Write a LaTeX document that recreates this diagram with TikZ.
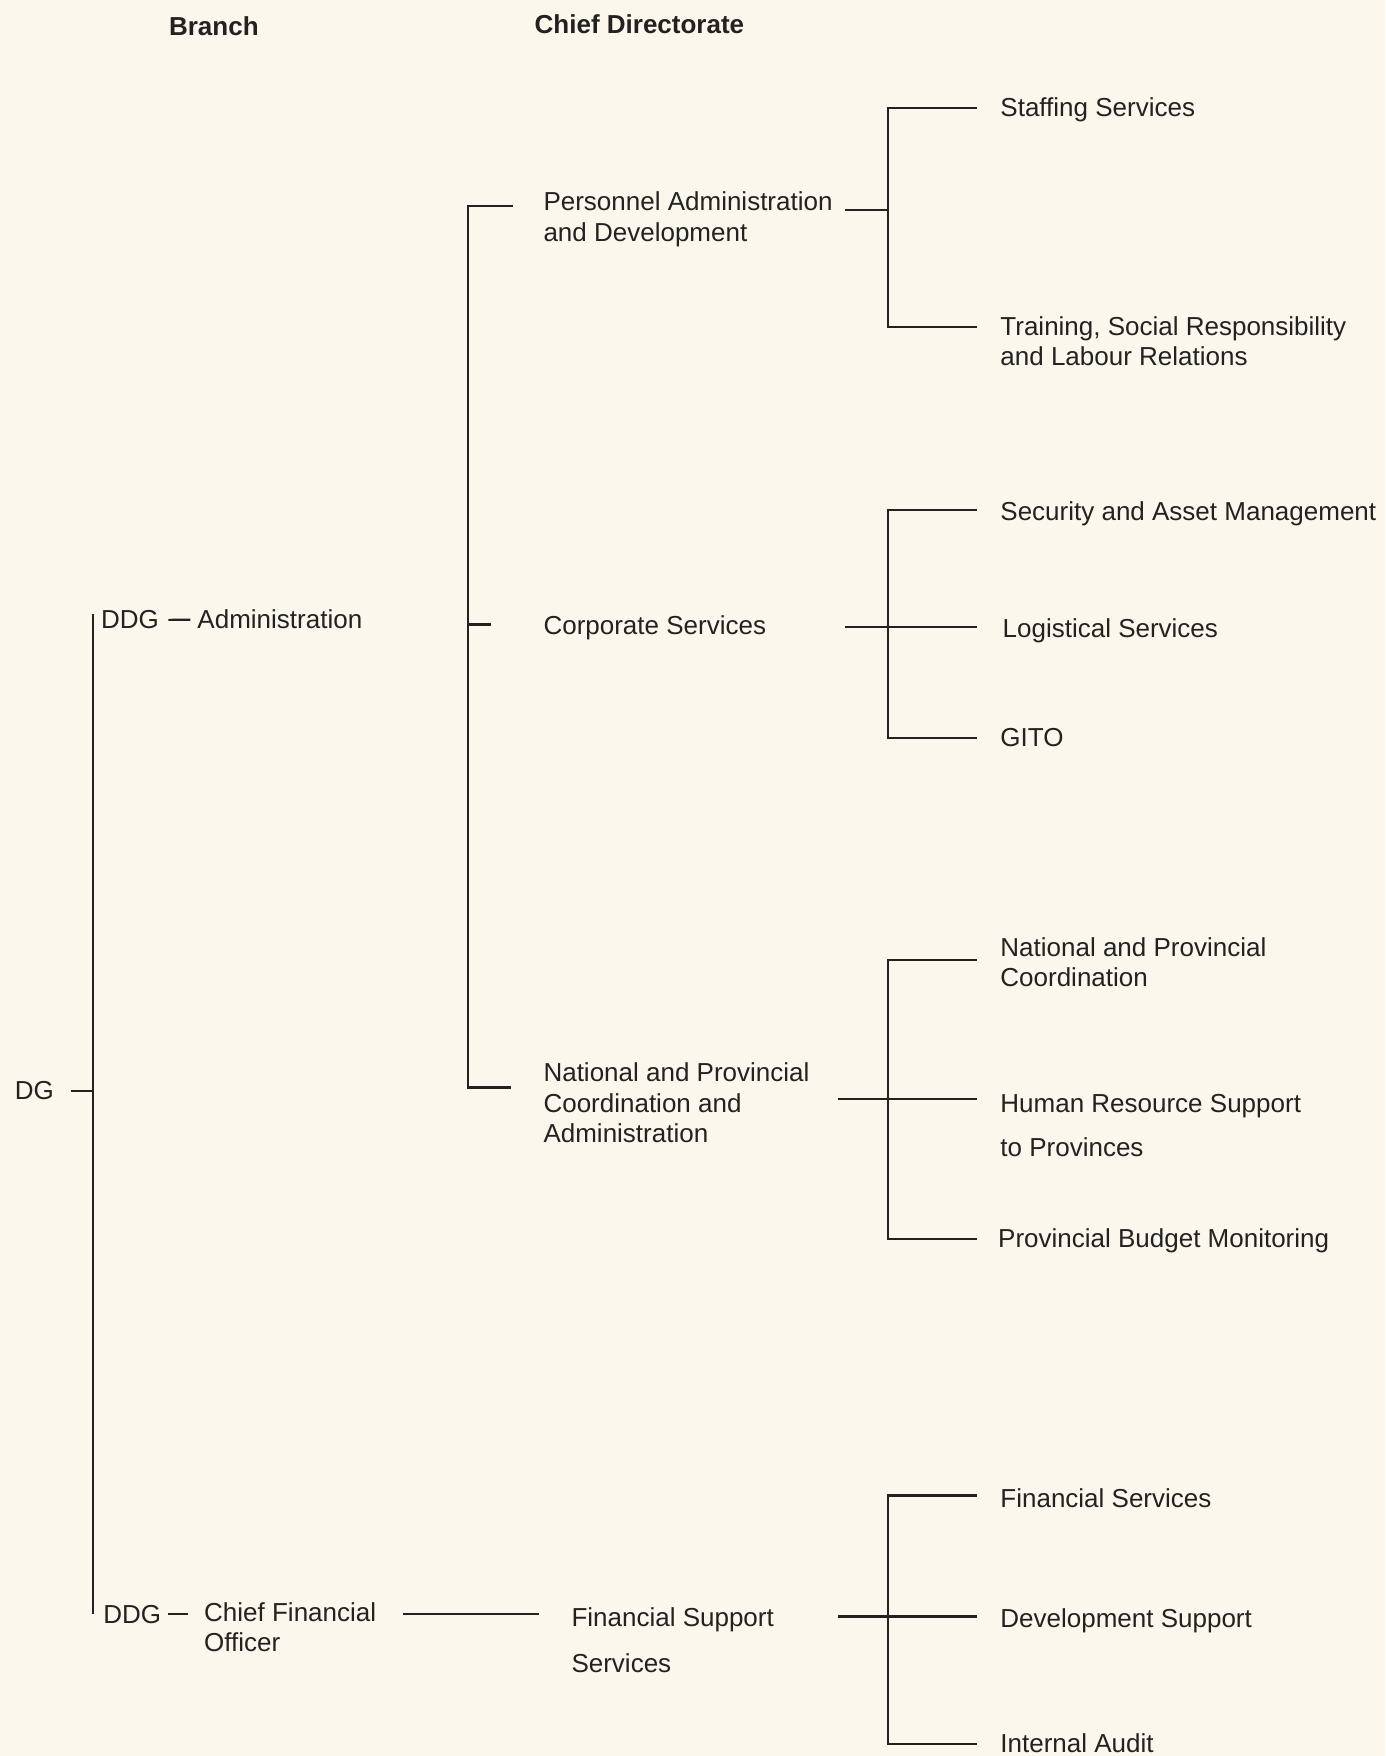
\documentclass[tikz,border=0pt]{standalone}
\usepackage{fontspec}
\setmainfont{Liberation Sans}
\definecolor{paper}{RGB}{251,247,237}
\definecolor{ink}{RGB}{36,33,33}

\begin{document}
\begin{tikzpicture}[x=0.5599pt, y=-0.5605pt,
    every node/.style={inner sep=0pt, text=ink, font=\fontsize{13}{15.1}\selectfont},
    unit/.style={anchor=base west, align=left},
    head/.style={font=\fontsize{13}{15.1}\selectfont\bfseries},
    link/.style={draw=ink, line width=1.1pt}]

    \fill[paper] (0,0) rectangle (1236.9,1566.4);
    \useasboundingbox (0,0) rectangle (1236.9,1566.4);

    \node[head] (hbranch) at (191,23) {Branch};
    \node[head] (hchief) at (571,22) {Chief Directorate};

    % branch
    \node[unit] (dg) at (13,981) {DG};
    \node[unit] (ddgA) at (90,561) {DDG};
    \node[unit] (admin) at (176,561) {Administration};
    \node[unit] (ddgB) at (92,1448) {DDG};
    \node[unit] (cfo) at (182,1473) {Chief Financial\\Officer};

    % chief directorate
    \node[unit] (pad) at (485,215) {Personnel Administration\\and Development};
    \node[unit] (corp) at (485,566) {Corporate Services};
    \node[unit] (npca) at (485,1019) {National and Provincial\\Coordination and\\Administration};
    \node[unit] (fss) at (510,1492) {Financial Support\\[7.8pt]Services};

    % directorates
    \node[unit] (staff) at (893,104) {Staffing Services};
    \node[unit] (train) at (893,326) {Training, Social Responsibility\\and Labour Relations};
    \node[unit] (secur) at (893,464) {Security and Asset Management};
    \node[unit] (logis) at (895,569) {Logistical Services};
    \node[unit] (gito) at (893,666) {GITO};
    \node[unit] (npc) at (893,880) {National and Provincial\\Coordination};
    \node[unit] (hrs) at (893,1032) {Human Resource Support\\[7.2pt]to Provinces};
    \node[unit] (pbm) at (891,1113) {Provincial Budget Monitoring};
    \node[unit] (fins) at (893,1345) {Financial Services};
    \node[unit] (devs) at (893,1452) {Development Support};
    \node[unit] (iaud) at (893,1563) {Internal Audit};

    \coordinate (dgTop) at (83,548);
    \coordinate (dgMid) at (83,973);
    \coordinate (dgBot) at (83,1440);
    \coordinate (dgTick) at (63,973);
    \draw[link] (dgTop) -- (dgBot);
    \draw[link] (dgTick) -- (dgMid);

    \draw[link, shorten <=4.5pt, shorten >=3.4pt] (ddgA.east) -- (admin.west);
    \draw[link, shorten <=3.4pt, shorten >=7.8pt] (ddgB.east) -- (ddgB.east -| cfo.west);
    \draw[link, shorten <=13.4pt, shorten >=16.2pt] (ddgB.east -| cfo.east) -- (ddgB.east -| fss.west);

    \coordinate (busTop) at (458,184);
    \coordinate (busMid) at (418,557);
    \coordinate (busBot) at (456,970);
    \coordinate (corpTick) at (438,557);
    \draw[link] (busTop) -| (busMid) |- (busBot);
    \draw[link] (busMid) -- (corpTick);

    \coordinate (padOut) at (755,187);
    \coordinate (padJ) at (793,187);
    \coordinate (staffIn) at (872,96);
    \coordinate (trainIn) at (872,292);
    \draw[link] (padOut) -- (padJ);
    \draw[link] (staffIn) -| (padJ) |- (trainIn);

    \coordinate (corpOut) at (755,559);
    \coordinate (corpJ) at (793,559);
    \coordinate (securIn) at (872,455);
    \coordinate (logisIn) at (872,559);
    \coordinate (gitoIn) at (872,658);
    \draw[link] (corpOut) -- (logisIn);
    \draw[link] (securIn) -| (corpJ) |- (gitoIn);

    \coordinate (npcaOut) at (748,980);
    \coordinate (npcaJ) at (793,980);
    \coordinate (npcIn) at (872,856);
    \coordinate (hrsIn) at (872,980);
    \coordinate (pbmIn) at (872,1105);
    \draw[link] (npcaOut) -- (hrsIn);
    \draw[link] (npcIn) -| (npcaJ) |- (pbmIn);

    \coordinate (fssOut) at (748,1442);
    \coordinate (fssJ) at (793,1442);
    \coordinate (finsIn) at (872,1334);
    \coordinate (devsIn) at (872,1442);
    \coordinate (iaudIn) at (872,1556);
    \draw[link] (fssOut) -- (devsIn);
    \draw[link] (finsIn) -| (fssJ) |- (iaudIn);
\end{tikzpicture}
\end{document}
